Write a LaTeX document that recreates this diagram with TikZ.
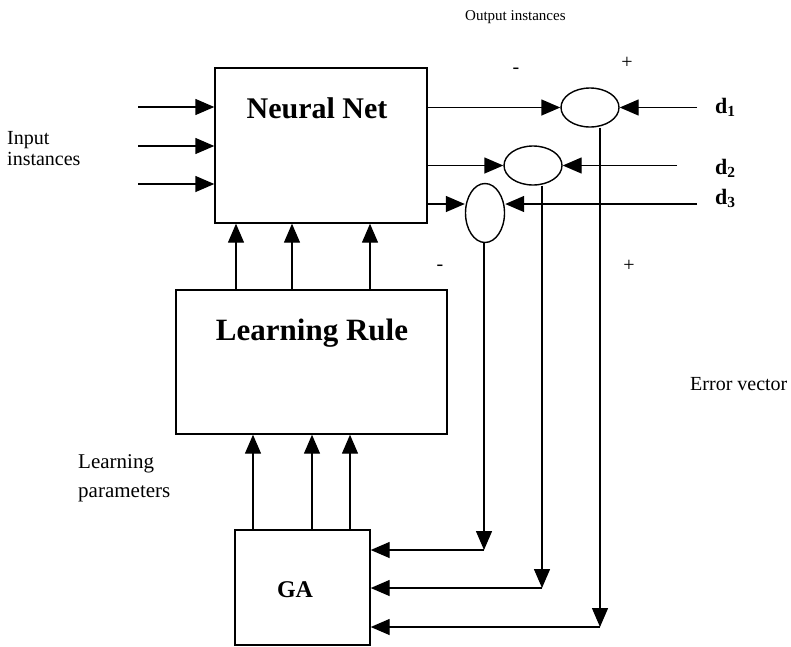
\documentclass[tikz,border=0pt]{standalone}
\usepackage{fontspec}
\setmainfont{Liberation Serif}
\usetikzlibrary{arrows.meta, positioning, shapes.geometric}

\begin{document}
\begin{tikzpicture}[x=1pt, y=-1pt,
  blk/.style={draw, line width=1.4pt, inner sep=0pt},
  sum/.style={draw, line width=1.4pt, ellipse, inner sep=0pt},
  e/.style={-{Triangle[length=19pt, width=16pt]}, line width=1.4pt},
  lbl/.style={font=\fontsize{20}{21}\selectfont, inner sep=0pt, align=left},
  sgn/.style={font=\fontsize{20}{22}\selectfont, inner sep=0pt},
  dlbl/.style={font=\fontsize{22}{24}\selectfont\bfseries, inner sep=0pt},
  big/.style={font=\fontsize{30}{34}\selectfont\bfseries, inner sep=0pt}]
  \useasboundingbox (0,0) rectangle (791,646);
  % blocks
  \node[blk, minimum width=212pt, minimum height=155pt] (nn) at (321,145.5) {};
  \node[big, anchor=base] (nnlbl) at (317,118) {Neural Net};
  \node[blk, minimum width=271pt, minimum height=144pt] (lr) at (311.5,362) {};
  \node[big, font=\fontsize{31}{34}\selectfont\bfseries, anchor=base] (lrlbl) at (312,340) {Learning Rule};
  \node[blk, minimum width=135pt, minimum height=115pt] (ga) at (302.5,587.5) {};
  \node[big, font=\fontsize{24}{26}\selectfont\bfseries, anchor=base] (galbl) at (295,597) {GA};
  % comparators
  \node[sum, minimum width=58pt, minimum height=39pt] (s1) at (590,107.5) {};
  \node[sum, minimum width=58pt, minimum height=39pt] (s2) at (533,165.5) {};
  \node[sum, minimum width=39pt, minimum height=59pt] (s3) at (485,213) {};
  % inputs
  \coordinate (in1) at (138,107);
  \coordinate (in2) at (138,146);
  \coordinate (in3) at (138,184);
  \foreach \i in {in1,in2,in3}
    \draw[e] (\i) -- (nn.west |- \i);
  \node[lbl, anchor=north west] (inlbl) at (7,131) {Input\\instances};
  % outputs
  \coordinate (o3) at (427,204);
  \draw[e] (nn.east |- s1) -- (s1);
  \draw[e] (nn.east |- s2) -- (s2);
  \draw[e] (o3) -- (s3.west |- o3);
  \node[lbl, font=\fontsize{15}{18}\selectfont, anchor=base west] (outlbl) at (465,20) {Output instances};
  % desired outputs
  \coordinate (d1) at (697,107.5);
  \coordinate (d2) at (677,165.5);
  \coordinate (d3) at (697,204);
  \draw[e] (d1) -- (s1);
  \draw[e] (d2) -- (s2);
  \draw[e] (d3) -- (s3.east |- d3);
  \node[dlbl, anchor=west] (d1lbl) at (715,107) {d\textsubscript{1}};
  \node[dlbl, anchor=west] (d2lbl) at (715,168) {d\textsubscript{2}};
  \node[dlbl, anchor=west] (d3lbl) at (715,198) {d\textsubscript{3}};
  % signs
  \node[sgn] (m1) at (516,71) {-};
  \node[sgn] (p1) at (627,63) {+};
  \node[sgn] (m2) at (440,268) {-};
  \node[sgn] (p2) at (629,266) {+};
  % error vector to GA
  \coordinate (c1) at (600,627);
  \coordinate (c2) at (542,588);
  \coordinate (c3) at (484,550);
  \draw[e] (s1.south -| c1) -- (c1);
  \draw[e] (s2.south -| c2) -- (c2);
  \draw[e] (s3.south -| c3) -- (c3);
  \draw[e] (c1) -- (ga.east |- c1);
  \draw[e] (c2) -- (ga.east |- c2);
  \draw[e] (c3) -- (ga.east |- c3);
  \node[lbl, anchor=base west] (errlbl) at (690,390) {Error vector};
  % learning parameters
  \foreach \x in {236,292,370}
    \draw[e] (lr.north -| \x,0) -- (nn.south -| \x,0);
  \foreach \x in {253,312,350}
    \draw[e] (ga.north -| \x,0) -- (lr.south -| \x,0);
  \node[lbl, font=\fontsize{21}{29}\selectfont, anchor=base west] (parlbl) at (78,497) {Learning\\parameters};
\end{tikzpicture}
\end{document}
